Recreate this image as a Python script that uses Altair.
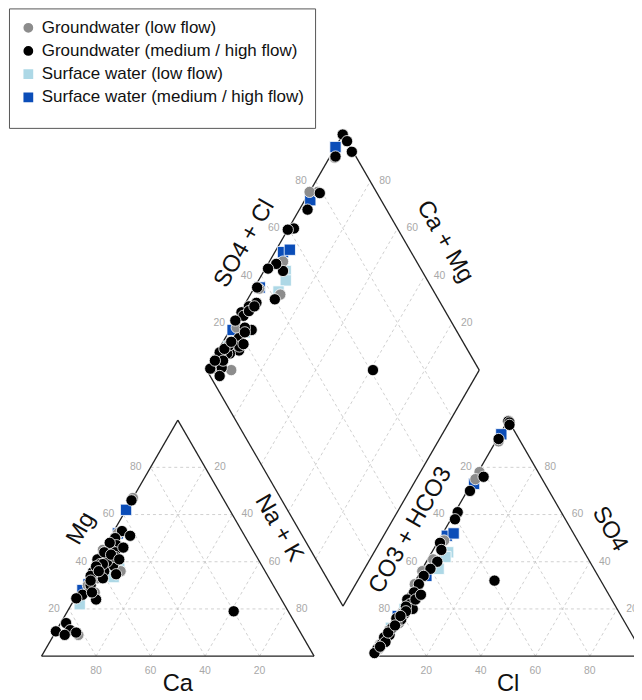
import math
import altair as alt
import pandas as pd

# ---------------- data (percent of meq) ----------------
GROUPS = ["Groundwater (low flow)", "Groundwater (medium / high flow)",
          "Surface water (low flow)", "Surface water (medium / high flow)"]
COLORS = ["#8c8c8c", "#000000", "#add8e6", "#0b4db8"]
SHAPES = ["circle", "circle", "square", "square"]
SIZES = [130, 130, 85, 85]

# Groundwater (low flow)
gwl_mg = [67, 52, 48, 45, 40, 36, 44, 38, 9, 30, 35, 42, 27, 33]
gwl_nak = [0, 2, 3, 0, 5, 11, 2, 4, 9, 2, 3, 1, 6, 4]
gwl_so4 = [99.8, 91, 78, 75, 49, 41, 36, 30.5, 8, 18, 10, 5, 14, 3]
gwl_cl = [0.2, 1, 0.5, 0.5, 2, 2, 0.5, 0.5, 1, 2, 1, 0.5, 3, 1]

# Groundwater (medium / high flow)
gwh_mg = [66, 53, 51, 50, 47, 45, 43, 41, 38.5, 37, 35.6, 34.7, 34, 28, 26, 24, 24.5, 14, 10.5, 11,
          10, 19, 44, 40, 39, 36, 42, 48, 30, 27, 39, 44, 9, 46, 33, 32, 43, 38, 36, 41]
gwh_nak = [0, 3, 7, 2, 4, 3, 2, 0, 7, 3, 1, 10, 1, 4, 2, 8, 0.5, 2, 0, 5,
           7.7, 61, 5, 4, 2, 5, 6, 1, 3, 5, 3, 1, 4, 7, 6, 2, 4, 1, 3, 8]
gwh_so4 = [99.5, 99, 98, 92, 76, 70, 61, 58, 48, 45, 40, 37, 34, 30.5, 27, 24, 22, 20, 18, 15.5,
           14, 32, 11, 9, 7, 5, 3, 1.3, 24, 21, 12, 8, 6, 16, 19, 10, 26, 4, 13, 17]
gwh_cl = [0.3, 1, 1.5, 0.5, 3, 1, 1, 1.5, 1, 3, 4, 3, 2, 2, 2, 1, 3, 5, 3, 3,
          2, 29, 1, 2, 1, 1, 0.5, 0.3, 4, 2, 1.5, 0.5, 2, 1, 3, 1, 5, 1, 2, 2]

# Surface water (low flow)
swl_mg = [40, 37, 33.5, 22, 38]
swl_nak = [8, 10, 9.7, 3, 6]
swl_so4 = [44, 42, 37, 12, 20]
swl_cl = [6, 6, 6, 1, 2]

# Surface water (medium / high flow)
swh_mg = [62, 52, 45, 43, 30.5, 28]
swh_nak = [0, 2, 3, 5, 2, 1]
swh_so4 = [94, 73, 51, 52, 34, 17]
swh_cl = [0.5, 1, 2, 4, 3, 1]

TICKS = [20, 40, 60, 80]

# ---------------- Piper geometry ----------------
G = 0.212                 # gap between triangles (in side lengths)
H = math.sqrt(3) / 2


def cat_xy(mg, nak):
    return (nak + 0.5 * mg) / 100, H * mg / 100


def an_xy(so4, cl):
    return 1 + G + (cl + 0.5 * so4) / 100, H * so4 / 100


def dia_xy(nak, sc):
    c = 1 - nak / 100
    a = sc / 100
    return 1 + G / 2 + 0.5 * (a - c), H * G + H * (a + c)


# points
rows = []
sets = [
    (GROUPS[2], swl_mg, swl_nak, swl_so4, swl_cl),
    (GROUPS[3], swh_mg, swh_nak, swh_so4, swh_cl),
    (GROUPS[0], gwl_mg, gwl_nak, gwl_so4, gwl_cl),
    (GROUPS[1], gwh_mg, gwh_nak, gwh_so4, gwh_cl),
]
for grp, mgs, naks, so4s, cls in sets:
    for mg, nak, so4, cl in zip(mgs, naks, so4s, cls):
        for (x, y) in (cat_xy(mg, nak), an_xy(so4, cl), dia_xy(nak, so4 + cl)):
            rows.append({"x": x, "y": y, "group": grp})
pts = pd.DataFrame(rows)


def seg(lst, p, q):
    lst.append({"x": p[0], "y": p[1], "x2": q[0], "y2": q[1]})


frame = []
for f in (cat_xy, an_xy):
    A, B, C = f(0, 0), f(0, 100), f(100, 0)
    seg(frame, A, B)
    seg(frame, B, C)
    seg(frame, C, A)
D = [dia_xy(100, 0), dia_xy(0, 0), dia_xy(0, 100), dia_xy(100, 100)]
for i in range(4):
    seg(frame, D[i], D[(i + 1) % 4])

grid = []
for v in TICKS:
    for f in (cat_xy, an_xy):
        seg(grid, f(v, 0), f(v, 100 - v))
        seg(grid, f(0, 100 - v), f(100 - v, 0))
        seg(grid, f(0, v), f(100 - v, v))
    seg(grid, dia_xy(v, 0), dia_xy(v, 100))
    seg(grid, dia_xy(0, v), dia_xy(100, v))

frame_df = pd.DataFrame(frame)
grid_df = pd.DataFrame(grid)

# ---------------- scales ----------------
S = 276.0
X0 = -34 / S
X1 = X0 + 634 / S
Y1 = 652 / S
Y0 = Y1 - 692 / S
xs = alt.Scale(domain=[X0, X1], nice=False, zero=False)
ys = alt.Scale(domain=[Y0, Y1], nice=False, zero=False)

FONT = "Liberation Sans"

grid_layer = alt.Chart(grid_df).mark_rule(
    color="#c4c4c4", strokeWidth=0.8, strokeDash=[3, 3]
).encode(
    x=alt.X("x:Q", scale=xs, axis=None), y=alt.Y("y:Q", scale=ys, axis=None),
    x2="x2:Q", y2="y2:Q")

frame_layer = alt.Chart(frame_df).mark_rule(
    color="#222222", strokeWidth=1.3
).encode(
    x=alt.X("x:Q", scale=xs, axis=None), y=alt.Y("y:Q", scale=ys, axis=None),
    x2="x2:Q", y2="y2:Q")

LEG = dict(title=" ", titleOrient="bottom", titleFontSize=8, titlePadding=3,
           orient="none", legendX=1, legendY=-4)

point_layer = alt.Chart(pts).mark_point(
    filled=True, opacity=1, stroke="white", strokeWidth=0.8
).encode(
    x=alt.X("x:Q", scale=xs, axis=None),
    y=alt.Y("y:Q", scale=ys, axis=None),
    color=alt.Color("group:N", scale=alt.Scale(domain=GROUPS, range=COLORS),
                    legend=alt.Legend(**LEG)),
    shape=alt.Shape("group:N", scale=alt.Scale(domain=GROUPS, range=SHAPES),
                    legend=alt.Legend(**LEG)),
    size=alt.Size("group:N", scale=alt.Scale(domain=GROUPS, range=SIZES), legend=None),
)

# tick labels
tick_sides = [
    (lambda v: cat_xy(v, 0), -15, 0),
    (lambda v: cat_xy(100 - v, v), 15, 0),
    (lambda v: cat_xy(0, 100 - v), 0, 15),
    (lambda v: an_xy(100 - v, 0), -15, 0),
    (lambda v: an_xy(v, 100 - v), 15, 0),
    (lambda v: an_xy(0, v), 0, 15),
    (lambda v: dia_xy(0, v), -15, 0),
    (lambda v: dia_xy(100 - v, 100), 15, 0),
]
tick_layers = []
for fn, dx, dy in tick_sides:
    df = pd.DataFrame([{"x": fn(v)[0], "y": fn(v)[1], "t": str(v)} for v in TICKS])
    tick_layers.append(
        alt.Chart(df).mark_text(
            font=FONT, fontSize=10.5, color="#a8a8a8", align="center",
            baseline="middle", dx=dx, dy=dy
        ).encode(x=alt.X("x:Q", scale=xs, axis=None),
                 y=alt.Y("y:Q", scale=ys, axis=None), text="t:N"))

# axis titles
titles = [
    ("Mg", cat_xy(50, 0), 300, -6, -30),
    ("Na + K", cat_xy(50, 50), 60, 8, -34),
    ("Ca", cat_xy(0, 50), 0, 0, 28),
    ("CO3 + HCO3", an_xy(50, 0), 300, -8, -30),
    ("SO4", an_xy(50, 50), 60, 9, -34),
    ("Cl", an_xy(0, 50), 0, 0, 28),
    ("SO4 + Cl", dia_xy(0, 50), 300, -8, -31),
    ("Ca + Mg", dia_xy(50, 100), 60, 8, -35),
]
title_layers = []
for txt, (tx, ty), ang, dx, dy in titles:
    df = pd.DataFrame([{"x": tx, "y": ty, "t": txt}])
    title_layers.append(
        alt.Chart(df).mark_text(
            font=FONT, fontSize=24, color="#111111", align="center",
            baseline="middle", angle=ang, dx=dx, dy=dy
        ).encode(x=alt.X("x:Q", scale=xs, axis=None),
                 y=alt.Y("y:Q", scale=ys, axis=None), text="t:N"))

chart = alt.layer(
    grid_layer, frame_layer, *tick_layers, *title_layers, point_layer
).properties(
    width=634, height=692, padding=0,
    autosize=alt.AutoSizeParams(type="none"),
    background="white",
).configure_view(
    stroke="transparent"
).configure_legend(
    padding=11, strokeColor="#555555", fillColor="white",
    labelFont=FONT, labelFontSize=17.2, labelColor="#111111", labelLimit=400,
    labelOffset=5, symbolSize=70, rowPadding=4.5,
)

chart.save("out.html", embed_options={"renderer": "svg", "actions": False})
